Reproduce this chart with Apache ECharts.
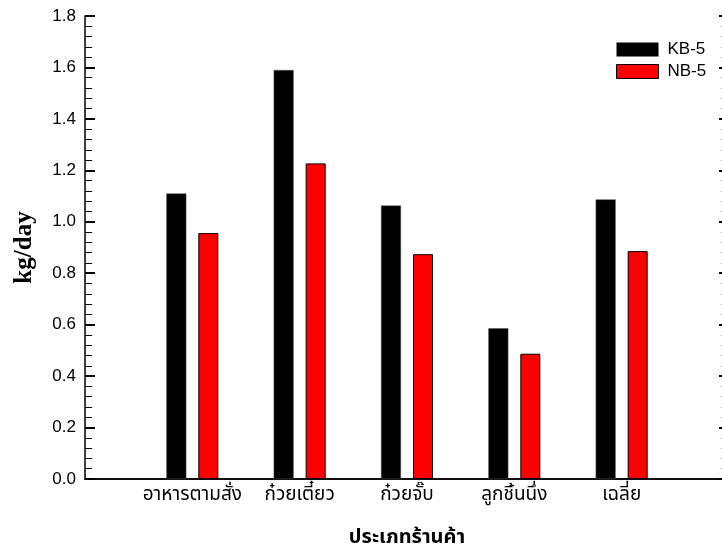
<!DOCTYPE html>
<html>
<head>
<meta charset="utf-8">
<script src="https://cdn.jsdelivr.net/npm/echarts@6/dist/echarts.min.js"></script>
<style>
  html, body { margin: 0; padding: 0; background: #fff; }
  #chart { width: 722px; height: 552px; }
</style>
</head>
<body>
<div id="chart"></div>
<script>
// Shop types on the horizontal axis
const categories = ['อาหารตามสั่ง', 'ก๋วยเตี๋ยว', 'ก๋วยจั๊บ', 'ลูกชิ้นนึ่ง', 'เฉลี่ย'];
// Daily amounts (kg/day) per shop type
const kb5 = [1.11, 1.59, 1.063, 0.586, 1.087];
const nb5 = [0.956, 1.227, 0.874, 0.487, 0.886];
const seriesNames = ['KB-5', 'NB-5'];
const yTicks = [0, 0.2, 0.4, 0.6, 0.8, 1.0, 1.2, 1.4, 1.6, 1.8];

// The axis keeps one empty slot on each side of the shop types
const axisData = [''].concat(categories, ['']);
const pad = v => [null].concat(v, [null]);

const thaiFont = '"Noto Sans Thai", "Noto Sans", Tahoma, sans-serif';
const numFont = '"Liberation Sans", Arial, sans-serif';

const chart = echarts.init(document.getElementById('chart'), null, { renderer: 'canvas' });

chart.setOption({
  animation: false,
  backgroundColor: '#fff',
  grid: { left: 85, top: 16, width: 644, height: 463, outerBoundsMode: 'none', containLabel: false },
  legend: {
    orient: 'vertical',
    left: 616,
    top: 40,
    padding: 0,
    itemWidth: 42,
    itemHeight: 14,
    itemGap: 3,
    icon: 'rect',
    data: [
      { name: seriesNames[0], itemStyle: { color: '#000', borderWidth: 0 } },
      { name: seriesNames[1], itemStyle: { color: '#ff0000', borderColor: '#000', borderWidth: 1 } }
    ],
    textStyle: { fontFamily: numFont, fontSize: 17, lineHeight: 19, color: '#000', padding: [0, 0, 0, 4] }
  },
  xAxis: [
    {
      type: 'category',
      data: axisData,
      boundaryGap: false,
      axisLine: { lineStyle: { color: '#000', width: 1.5 } },
      axisTick: { show: false },
      axisLabel: { interval: 0, fontFamily: thaiFont, fontSize: 19, color: '#000', margin: 8 },
      name: 'ประเภทร้านค้า',
      nameLocation: 'middle',
      nameGap: 50,
      nameTextStyle: { fontFamily: thaiFont, fontSize: 20, fontWeight: 'bold', color: '#000' }
    },
    {
      type: 'category',
      position: 'top',
      data: axisData,
      boundaryGap: false,
      axisLine: { lineStyle: { color: '#000', width: 1.5 } },
      axisTick: { show: false },
      axisLabel: { show: false }
    }
  ],
  yAxis: [
    {
      type: 'value',
      min: 0,
      max: 1.8,
      interval: 0.2,
      axisLine: { show: true, lineStyle: { color: '#000', width: 1.5 } },
      axisTick: { show: true, inside: true, length: 10, lineStyle: { color: '#000', width: 2 } },
      minorTick: { show: true, splitNumber: 5, length: 7, lineStyle: { color: '#000', width: 1 } },
      splitLine: { show: false },
      axisLabel: {
        fontFamily: numFont, fontSize: 17, color: '#000', margin: 9,
        customValues: yTicks,
        formatter: v => v.toFixed(1)
      },
      name: 'kg/day',
      nameLocation: 'middle',
      nameRotate: 90,
      nameGap: 48,
      nameTextStyle: { fontFamily: '"Liberation Serif", "Times New Roman", serif', fontSize: 25, fontWeight: 'bold', color: '#000' }
    },
    {
      type: 'value',
      position: 'right',
      min: 0,
      max: 1.8,
      interval: 0.2,
      axisLine: { show: true, lineStyle: { color: '#000', width: 1.5 } },
      axisTick: { show: true, inside: true, length: 10, lineStyle: { color: '#000', width: 2 } },
      minorTick: { show: true, splitNumber: 5, length: 8, lineStyle: { color: '#aaa', width: 1 } },
      splitLine: { show: false },
      axisLabel: { show: false }
    }
  ],
  series: [
    {
      name: seriesNames[0],
      type: 'bar',
      data: pad(kb5),
      barWidth: 20,
      barGap: '60%',
      itemStyle: { color: '#000', borderColor: '#555', borderWidth: 0.5 }
    },
    {
      name: seriesNames[1],
      type: 'bar',
      data: pad(nb5),
      barWidth: 20,
      barGap: '60%',
      itemStyle: { color: '#ff0000', borderColor: '#000', borderWidth: 1 }
    }
  ]
});
</script>
</body>
</html>
